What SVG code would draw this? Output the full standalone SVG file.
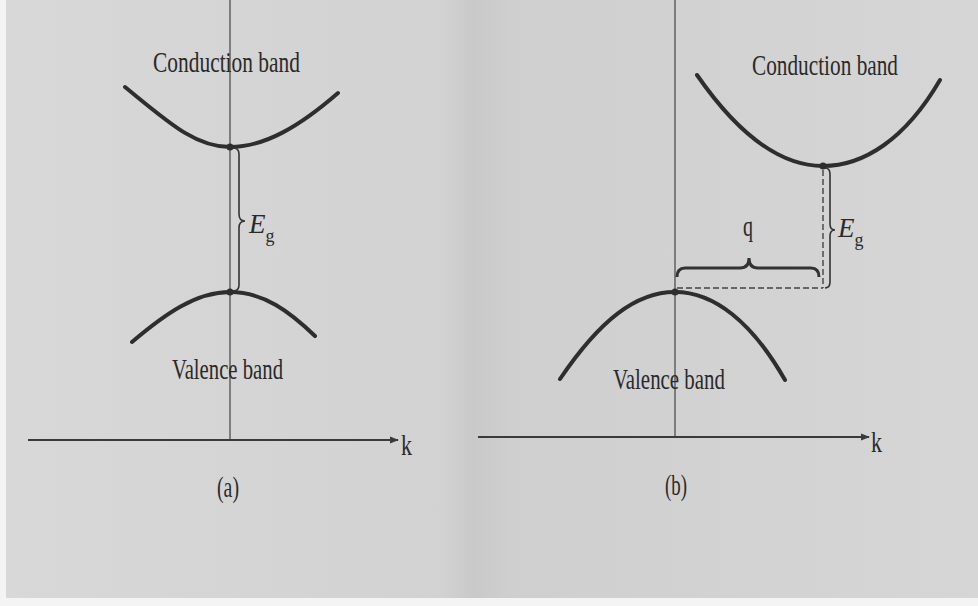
<svg xmlns="http://www.w3.org/2000/svg" width="978" height="606" viewBox="0 0 978 606">
<style>
.band{fill:none;stroke:#2e2e2e;stroke-width:4;stroke-linecap:round}
.axis{fill:none;stroke:#3a3a3a;stroke-width:2}
.vaxis{fill:none;stroke:#444;stroke-width:1.2}
.brace{fill:none;stroke:#333;stroke-width:1.6}
.dash{fill:none;stroke:#444;stroke-width:1.4;stroke-dasharray:6 3}
.lbl{font-family:"Liberation Serif","Times New Roman",serif;fill:#2a2a2a;font-size:30px}
.it{font-family:"Liberation Serif","Times New Roman",serif;font-style:italic;fill:#2a2a2a;font-size:27px}
.sub{font-size:18px;font-style:normal}
.dot{fill:#2e2e2e}
</style>
<defs>
<marker id="arr" viewBox="0 0 10 10" refX="9" refY="5" markerWidth="9" markerHeight="9" markerUnits="userSpaceOnUse" orient="auto">
<path d="M0,1 L10,5 L0,9 Z" fill="#3a3a3a"/>
</marker>
<linearGradient id="bg" x1="0" y1="0" x2="1" y2="0">
<stop offset="0" stop-color="#d8d8d8"/>
<stop offset="0.45" stop-color="#d2d2d2"/>
<stop offset="0.48" stop-color="#c9c9c9"/>
<stop offset="0.52" stop-color="#cfcfcf"/>
<stop offset="1" stop-color="#d6d6d6"/>
</linearGradient>
</defs>
<rect x="0" y="0" width="978" height="606" fill="#f4f4f4"/>
<rect x="6" y="0" width="972" height="598" fill="url(#bg)"/>

<g id="connectors">
<path class="vaxis" d="M230,0 L230,440"/>
<path class="axis" d="M28,440 L398,440" marker-end="url(#arr)"/>
<path class="vaxis" d="M675,0 L675,437"/>
<path class="axis" d="M478,437 L869,437" marker-end="url(#arr)"/>
</g>

<g id="panel-a">
<g id="a-conduction">
<path class="band" d="M125,87 C168,122 195,147 230,147 C265,147 300,126 338,93"/>
<circle class="dot" cx="230" cy="147" r="3.5"/>
<text class="lbl" x="153" y="72" textLength="147" lengthAdjust="spacingAndGlyphs">Conduction band</text>
</g>
<g id="a-valence">
<path class="band" d="M132,342 C165,314 196,292 230,292 C264,292 290,312 315,336"/>
<circle class="dot" cx="230" cy="292" r="3.5"/>
<text class="lbl" x="172" y="379" textLength="111" lengthAdjust="spacingAndGlyphs">Valence band</text>
</g>
<g id="a-gap">
<path class="brace" d="M233,148 Q239,148 239,154 L239,214 Q239,221 245,221 Q239,221 239,228 L239,285 Q239,291 233,291"/>
<text class="it" x="249" y="233">E<tspan class="sub" dy="9">g</tspan></text>
</g>
<text class="lbl" x="228" y="497" text-anchor="middle" font-size="26" textLength="22" lengthAdjust="spacingAndGlyphs">(a)</text>
<text class="lbl" x="401" y="455" font-size="28" textLength="11" lengthAdjust="spacingAndGlyphs">k</text>
</g>

<g id="panel-b">
<g id="b-conduction">
<path class="band" d="M697,75 C742,140 785,166 823,166 C863,166 905,140 940,80"/>
<circle class="dot" cx="823" cy="166" r="3.5"/>
<text class="lbl" x="752" y="75" textLength="146" lengthAdjust="spacingAndGlyphs">Conduction band</text>
</g>
<g id="b-valence">
<path class="band" d="M560,379 C600,320 636,292 675,292 C714,292 752,322 785,380"/>
<circle class="dot" cx="675" cy="292" r="3.5"/>
<text class="lbl" x="613" y="389" textLength="112" lengthAdjust="spacingAndGlyphs">Valence band</text>
</g>
<g id="b-gap">
<path class="dash" d="M823,170 L823,288"/>
<path class="dash" d="M677,288 L823,288"/>
<path class="brace" d="M825,168 Q830,168 830,174 L830,224 Q830,230 835,230 Q830,230 830,236 L830,282 Q830,288 825,288"/>
<text class="it" x="838" y="237">E<tspan class="sub" dy="9">g</tspan></text>
</g>
<g id="b-q">
<path class="brace" style="stroke-width:3" d="M677,277 Q677,268 685,268 L740,268 Q749,268 749,258 Q749,268 758,268 L811,268 Q819,268 819,277"/>
<text class="lbl" x="748" y="236" text-anchor="middle" font-size="26" textLength="10" lengthAdjust="spacingAndGlyphs">q</text>
</g>
<text class="lbl" x="676" y="495" text-anchor="middle" font-size="26" textLength="22" lengthAdjust="spacingAndGlyphs">(b)</text>
<text class="lbl" x="871" y="452" font-size="28" textLength="11" lengthAdjust="spacingAndGlyphs">k</text>
</g>
</svg>
